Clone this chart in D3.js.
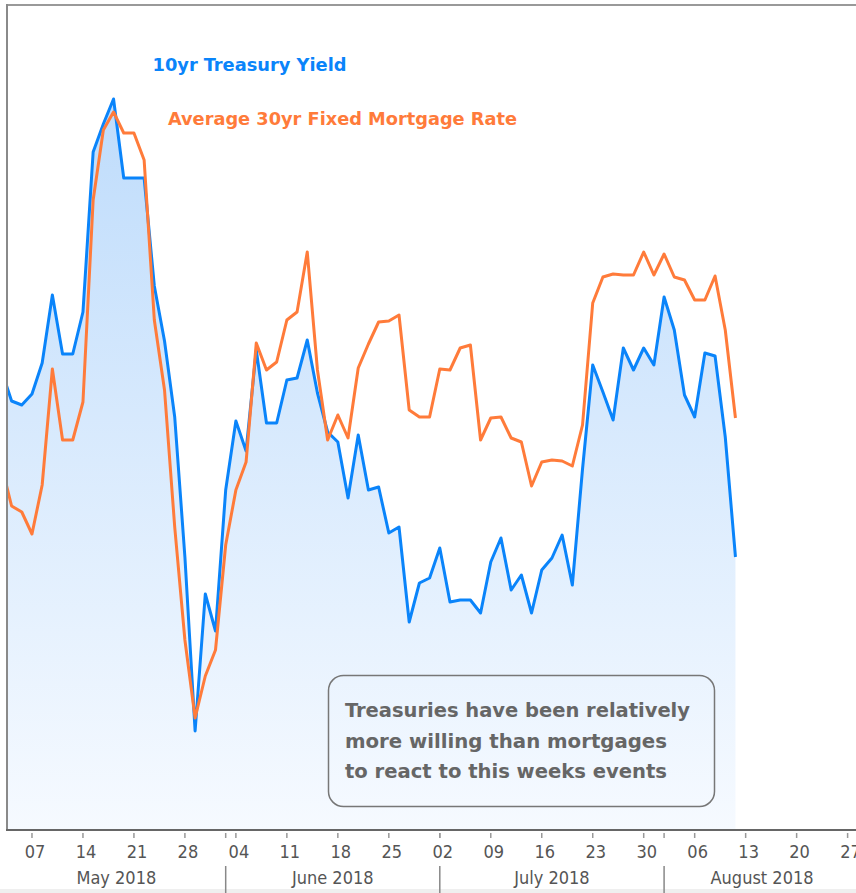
<!DOCTYPE html>
<html>
<head>
<meta charset="utf-8">
<script src="https://cdn.jsdelivr.net/npm/d3@7"></script>
<style>
body{margin:0;background:#fff;overflow:hidden}
svg{display:block}
text{font-family:"DejaVu Sans Condensed","DejaVu Sans",sans-serif}
</style>
</head>
<body>
<div id="chart"></div>
<script>
// business days, May 2 -> Aug 10 2018 for the data, axis runs to end of August
const firstDay = '2018-05-02'
const lastAxisDay = '2018-08-31'

const treasury = [2.975, 2.9595, 2.9575, 2.963, 2.9785, 3.0125, 2.983, 2.983, 3.004, 3.084,
	3.098, 3.1105, 3.071, 3.071, 3.071, 3.017, 2.9895, 2.9515, 2.8815, 2.7945,
	2.863, 2.8445, 2.915, 2.9495, 2.9345, 2.985, 2.9485, 2.9485, 2.97, 2.971,
	2.99, 2.9635, 2.944, 2.939, 2.911, 2.9425, 2.915, 2.9165, 2.8935, 2.8965,
	2.849, 2.8685, 2.871, 2.886, 2.859, 2.86, 2.86, 2.8535, 2.879, 2.891,
	2.865, 2.8725, 2.8535, 2.875, 2.881, 2.8925, 2.8675, 2.9255, 2.9775, 2.964,
	2.95, 2.986, 2.975, 2.986, 2.9775, 3.0115, 2.995, 2.9625, 2.9515, 2.9835,
	2.982, 2.9415, 2.8815]

const mortgage = [4.6075, 4.587, 4.584, 4.573, 4.5975, 4.6555, 4.62, 4.62, 4.639, 4.74,
	4.775, 4.784, 4.7735, 4.7735, 4.76, 4.68, 4.645, 4.5765, 4.52, 4.481,
	4.502, 4.515, 4.5675, 4.595, 4.609, 4.6685, 4.655, 4.659, 4.68, 4.684,
	4.714, 4.655, 4.62, 4.6325, 4.621, 4.656, 4.668, 4.679, 4.6795, 4.6825,
	4.635, 4.6315, 4.6315, 4.6555, 4.655, 4.666, 4.6675, 4.62, 4.631, 4.6315,
	4.621, 4.619, 4.597, 4.609, 4.61, 4.6095, 4.607, 4.6275, 4.6885, 4.7015,
	4.703, 4.7025, 4.7025, 4.714, 4.7025, 4.713, 4.7015, 4.70, 4.69, 4.69,
	4.702, 4.675, 4.631]

const seriesNames = ['10yr Treasury Yield', 'Average 30yr Fixed Mortgage Rate']
const monthNames = ['May 2018', 'June 2018', 'July 2018', 'August 2018']
const noteLines = ['Treasuries have been relatively', 'more willing than mortgages', 'to react to this weeks events']

const width = 856, height = 893
const plot = {left: 7, top: 5, bottom: 829, right: 868}

const parse = d3.utcParse('%Y-%m-%d')
const days = d3.utcDay.range(parse(firstDay), d3.utcDay.offset(parse(lastAxisDay), 1))
	.filter(d => d.getUTCDay() % 6 !== 0)

const blue = '#0a84fa'
const orange = '#ff7b3a'

// x runs on business-day index, so weekends take no room
let xScale = d3.scaleLinear()
.domain([0.55, 85])
.range([plot.left, plot.right])

let yT = d3.scaleLinear()
.domain([2.7455, 3.16])
.range([plot.bottom, 0])

let yM = d3.scaleLinear()
.domain([4.4255, 4.84])
.range([plot.bottom, 0])

const svg = d3.select('#chart')
.append('svg')
.attr('width', width)
.attr('height', height)

const defs = svg.append('defs')

const grad = defs.append('linearGradient')
.attr('id', 'fillGrad')
.attr('gradientUnits', 'userSpaceOnUse')
.attr('x1', 0).attr('y1', 0)
.attr('x2', 0).attr('y2', plot.bottom)

grad.append('stop').attr('offset', '0%').attr('stop-color', '#b7d8fb')
grad.append('stop').attr('offset', '100%').attr('stop-color', '#f6faff')

defs.append('clipPath')
.attr('id', 'plotClip')
.append('rect')
.attr('x', plot.left)
.attr('y', plot.top)
.attr('width', plot.right - plot.left)
.attr('height', plot.bottom - plot.top)

svg.append('rect')
.attr('x', 0).attr('y', 889)
.attr('width', width).attr('height', 4)
.attr('fill', '#efefef')

const g = svg.append('g').attr('clip-path', 'url(#plotClip)')

g.append('path')
.datum(treasury)
.attr('fill', 'url(#fillGrad)')
.attr('d', d3.area()
	.x((d, i) => xScale(i))
	.y0(plot.bottom)
	.y1(d => yT(d)))

g.append('path')
.datum(treasury)
.attr('fill', 'none')
.attr('stroke', blue)
.attr('stroke-width', 3)
.attr('stroke-linejoin', 'round')
.attr('d', d3.line().x((d, i) => xScale(i)).y(d => yT(d)))

g.append('path')
.datum(mortgage)
.attr('fill', 'none')
.attr('stroke', orange)
.attr('stroke-width', 3)
.attr('stroke-linejoin', 'round')
.attr('d', d3.line().x((d, i) => xScale(i)).y(d => yM(d)))

// frame
svg.append('line')
.attr('x1', plot.left).attr('x2', width)
.attr('y1', plot.top).attr('y2', plot.top)
.attr('stroke', '#999').attr('stroke-width', 2)

svg.append('line')
.attr('x1', plot.left).attr('x2', plot.left)
.attr('y1', plot.top - 1).attr('y2', plot.bottom + 1)
.attr('stroke', '#8a8a8a').attr('stroke-width', 2)

svg.append('line')
.attr('x1', plot.left - 1).attr('x2', width)
.attr('y1', plot.bottom + 1).attr('y2', plot.bottom + 1)
.attr('stroke', '#666').attr('stroke-width', 2)

// legend
const legendPos = [{x: 152.5, y: 71, w: 194, c: blue}, {x: 168, y: 124.5, w: 349, c: orange}]

seriesNames.map((name, i) => {
	svg.append('text')
	.attr('x', legendPos[i].x)
	.attr('y', legendPos[i].y)
	.attr('fill', legendPos[i].c)
	.attr('font-size', 18)
	.attr('font-weight', 'bold')
	.attr('textLength', legendPos[i].w)
	.attr('lengthAdjust', 'spacingAndGlyphs')
	.text(name)
})

// x axis: mondays + month starts
const idx = d => days.findIndex(f => +f === +d)
const mondays = days.filter(d => d.getUTCDay() === 1 && d >= parse('2018-05-07'))
const monthStarts = days.filter((d, i) => i > 0 && d.getUTCMonth() !== days[i - 1].getUTCMonth())

const axis = svg.append('g').attr('class', 'x-axis')

axis.selectAll('.tick')
.data(mondays.concat(monthStarts))
.enter()
.append('line')
.attr('x1', d => xScale(idx(d)))
.attr('x2', d => xScale(idx(d)))
.attr('y1', 833)
.attr('y2', 838)
.attr('stroke', '#999')
.attr('stroke-width', 1.5)

axis.selectAll('.day')
.data(mondays)
.enter()
.append('text')
.attr('x', d => xScale(idx(d)) + 3)
.attr('y', 858)
.attr('text-anchor', 'middle')
.attr('font-size', 18)
.attr('fill', '#555')
.text(d3.utcFormat('%d'))

axis.selectAll('.divider')
.data(monthStarts)
.enter()
.append('line')
.attr('x1', d => xScale(idx(d)))
.attr('x2', d => xScale(idx(d)))
.attr('y1', 866)
.attr('y2', 893)
.attr('stroke', '#888')
.attr('stroke-width', 1.5)

const bounds = [plot.left].concat(monthStarts.map(d => xScale(idx(d)))).concat([860])

axis.selectAll('.month')
.data(monthNames)
.enter()
.append('text')
.attr('x', (d, i) => (bounds[i] + bounds[i + 1]) / 2)
.attr('y', 884)
.attr('text-anchor', 'middle')
.attr('font-size', 18)
.attr('fill', '#555')
.text(d => d)

// annotation
svg.append('rect')
.attr('x', 328.5).attr('y', 675.5)
.attr('width', 386).attr('height', 131)
.attr('rx', 15)
.attr('fill', 'none')
.attr('stroke', '#777')
.attr('stroke-width', 1.5)

const noteWidths = [345, 322, 322]

svg.selectAll('.note')
.data(noteLines)
.enter()
.append('text')
.attr('x', 345)
.attr('y', (d, i) => 717 + i * 30.5)
.attr('font-size', 19)
.attr('font-weight', 'bold')
.attr('fill', '#666')
.attr('textLength', (d, i) => noteWidths[i])
.attr('lengthAdjust', 'spacingAndGlyphs')
.text(d => d)
</script>
</body>
</html>
